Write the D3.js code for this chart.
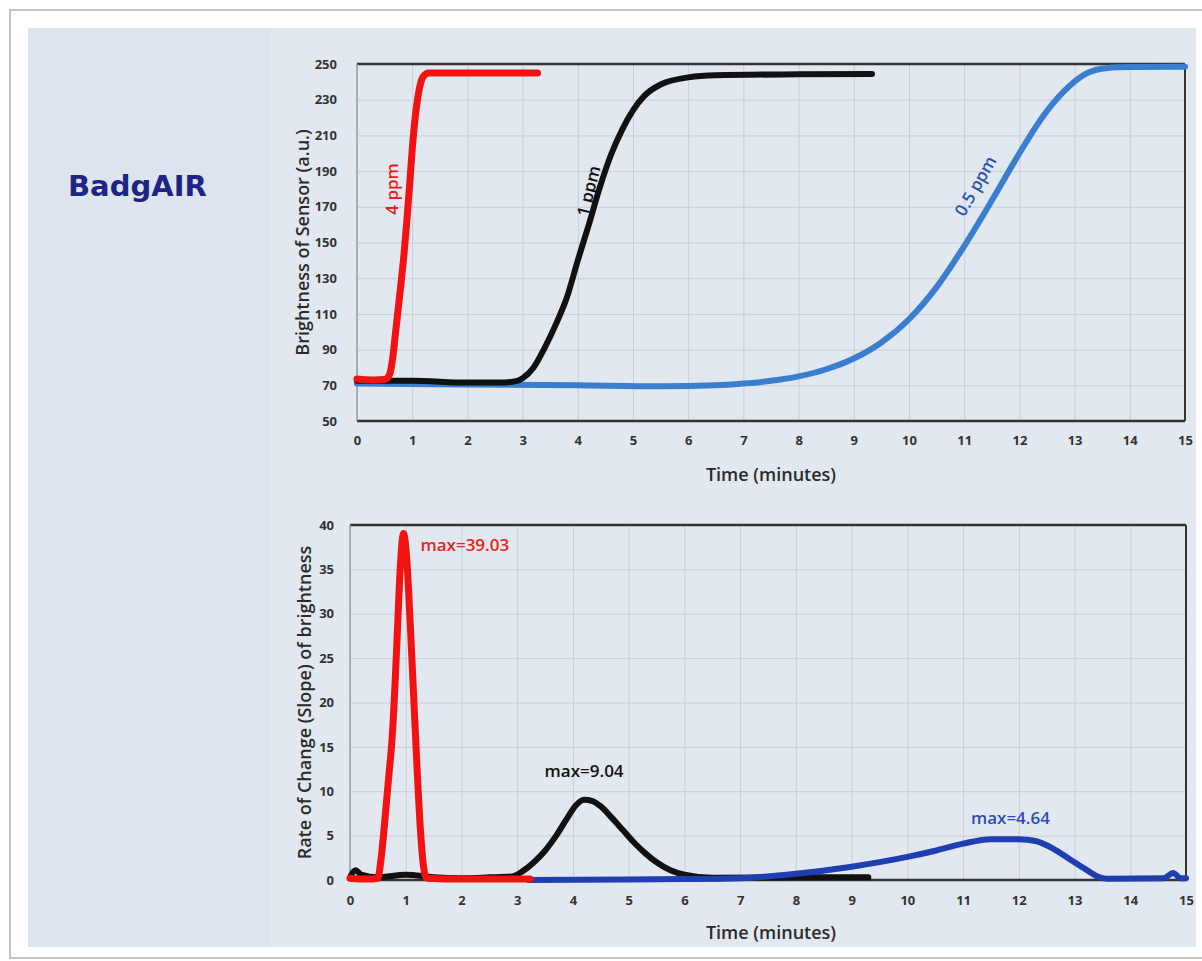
<!DOCTYPE html>
<meta charset="utf-8">
<style>
body { margin: 0; background: #fff; }
.tick text { font: bold 13px "Open Sans", sans-serif; fill: #333; }
.grid line { stroke: #c9ced6; stroke-width: 1; }
.grid path { display: none; }
.axis-title { font: 600 18px "Open Sans", sans-serif; fill: #2a2a2a; }
.note { font: 600 17px "Open Sans", sans-serif; }
</style>
<svg width="1202" height="961"></svg>
<script src="https://d3js.org/d3.v7.min.js"></script>
<script>
// brightness of sensor, [minutes, a.u.]
var bright4ppm = [[0,73.5],[0.3,73],[0.5,73.2],[0.55,74],[0.6,77],[0.65,86],[0.7,100],[0.75,114],[0.8,128],[0.85,143],[0.9,161],[0.95,181],[1.0,202],[1.05,219],[1.1,231],[1.15,239],[1.2,243],[1.3,245],[2,245],[3.27,245]];
var bright1ppm = [[0,72.5],[1,72.5],[2,71.5],[2.6,71.5],[2.9,72.5],[3.0,74],[3.2,80],[3.4,91],[3.6,104],[3.8,119],[4.0,140],[4.2,160],[4.4,181],[4.6,199],[4.8,213],[5.0,224],[5.2,232],[5.5,238.5],[6.0,242.5],[6.5,243.7],[8,244.2],[9.33,244.4]];
var bright05ppm = [[0,71],[2,70.5],[4,70],[5.5,69.5],[6.5,70],[7,71],[7.5,72.5],[8,75],[8.5,79],[9,85],[9.5,94],[10,107],[10.5,125],[11,148],[11.5,173.5],[12,200],[12.4,219.5],[12.8,234.5],[13.2,244.5],[13.6,247.8],[14,248.3],[15,248.5]];

// rate of change of brightness, [minutes, slope]
var slope4ppm = [[0,0.2],[0.3,0.1],[0.5,0.2],[0.55,2],[0.6,5],[0.65,8.5],[0.7,12],[0.75,15.5],[0.8,21],[0.85,28],[0.9,35],[0.96,39.03],[1.02,36],[1.08,29],[1.14,21],[1.2,13],[1.26,6],[1.32,1.5],[1.38,0.2],[2,0.1],[3.23,0.1]];
var slope1ppm = [[0,0.3],[0.1,1.1],[0.2,0.6],[0.5,0.3],[1,0.6],[1.5,0.3],[2,0.2],[2.5,0.3],[2.9,0.4],[3.1,1],[3.3,2],[3.5,3.3],[3.7,5],[3.9,7],[4.05,8.4],[4.2,9.04],[4.35,8.9],[4.5,8.3],[4.7,7],[4.9,5.6],[5.1,4.2],[5.3,3],[5.5,2],[5.75,1.1],[6.0,0.6],[6.5,0.25],[8,0.3],[9.3,0.3]];
var slope05ppm = [[3.2,0],[5,0.05],[6,0.1],[7,0.2],[8,0.7],[9,1.5],[10,2.6],[10.5,3.3],[11,4.1],[11.5,4.6],[12,4.6],[12.3,4.4],[12.6,3.6],[12.9,2.4],[13.2,1.2],[13.45,0.3],[13.6,0.15],[14.6,0.2],[14.77,0.8],[14.9,0.2],[15,0.2]];

var xTicks = d3.range(0, 16);
var yTicksTop = d3.range(50, 251, 20);
var yTicksBottom = d3.range(0, 41, 5);

var svg = d3.select("svg");

// card and background
svg.append("rect").attr("x", 10).attr("y", 10).attr("width", 1200).attr("height", 948)
    .attr("fill", "#fff").attr("stroke", "#c4c4c4").attr("stroke-width", 2);
svg.append("rect").attr("x", 28).attr("y", 28).attr("width", 1168).attr("height", 919)
    .attr("fill", "#e2e8ef");
svg.append("rect").attr("x", 28).attr("y", 28).attr("width", 242).attr("height", 919)
    .attr("fill", "#dde4ed");

svg.append("text").attr("x", 68).attr("y", 196)
    .style("font", "bold 29px 'DejaVu Sans', sans-serif").attr("fill", "#1d2486")
    .text("BadgAIR");

function panel(xr, yr, yDomain, yTicks, xPad, yPad, xTitleY, yTitleX, yTitle) {
    var x = d3.scaleLinear().domain([0, 15]).range(xr);
    var y = d3.scaleLinear().domain(yDomain).range(yr);
    var g = svg.append("g");
    g.append("g").attr("class", "grid")
        .attr("transform", "translate(0," + yr[0] + ")")
        .call(d3.axisBottom(x).tickValues(xTicks).tickSize(yr[1] - yr[0]).tickFormat(""));
    g.append("g").attr("class", "grid")
        .attr("transform", "translate(" + xr[0] + ",0)")
        .call(d3.axisLeft(y).tickValues(yTicks).tickSize(xr[0] - xr[1]).tickFormat(""));
    // frame
    g.append("line").attr("x1", xr[0]).attr("x2", xr[1]).attr("y1", yr[1]).attr("y2", yr[1]).attr("stroke", "#333").attr("stroke-width", 2.5);
    g.append("line").attr("x1", xr[0]).attr("x2", xr[1]).attr("y1", yr[0]).attr("y2", yr[0]).attr("stroke", "#333").attr("stroke-width", 2.5);
    g.append("line").attr("x1", xr[1]).attr("x2", xr[1]).attr("y1", yr[0]).attr("y2", yr[1]).attr("stroke", "#333").attr("stroke-width", 2);
    g.append("line").attr("x1", xr[0]).attr("x2", xr[0]).attr("y1", yr[0]).attr("y2", yr[1]).attr("stroke", "#9a9ea6").attr("stroke-width", 1.5);
    var xa = g.append("g").attr("transform", "translate(0," + yr[0] + ")")
        .call(d3.axisBottom(x).tickValues(xTicks).tickSize(0).tickPadding(xPad));
    xa.select(".domain").remove();
    var ya = g.append("g").attr("transform", "translate(" + xr[0] + ",0)")
        .call(d3.axisLeft(y).tickValues(yTicks).tickSize(0).tickPadding(yPad));
    ya.select(".domain").remove();
    g.append("text").attr("class", "axis-title").attr("text-anchor", "middle")
        .attr("x", 771).attr("y", xTitleY).text("Time (minutes)");
    g.append("text").attr("class", "axis-title").attr("text-anchor", "middle")
        .attr("transform", "translate(" + yTitleX + "," + ((yr[0] + yr[1]) / 2) + ") rotate(-90)")
        .text(yTitle);
    return {x: x, y: y, g: g};
}

function draw(p, data, color, width) {
    var line = d3.line().x(function(d) { return p.x(d[0]); }).y(function(d) { return p.y(d[1]); })
        .curve(d3.curveMonotoneX);
    p.g.append("path").datum(data).attr("d", line).attr("fill", "none")
        .attr("stroke", color).attr("stroke-width", width)
        .attr("stroke-linejoin", "round").attr("stroke-linecap", "round");
}

function note(p, t, v, text, color, angle) {
    p.g.append("text").attr("class", "note").attr("text-anchor", "middle")
        .attr("transform", "translate(" + p.x(t) + "," + p.y(v) + ") rotate(" + angle + ")")
        .attr("fill", color).text(text);
}

var topPanel = panel([357, 1185], [421, 64], [50, 250], yTicksTop, 15, 20, 481, 309, "Brightness of Sensor (a.u.)");
draw(topPanel, bright05ppm, "#3a7fcf", 6);
draw(topPanel, bright1ppm, "#111", 6);
draw(topPanel, bright4ppm, "#f21212", 7);
note(topPanel, 0.74, 180, "4 ppm", "#e81a1a", -90);
note(topPanel, 4.3, 178, "1 ppm", "#111", -76);
note(topPanel, 11.3, 180, "0.5 ppm", "#2b56b0", -60);

var botPanel = panel([350, 1186], [880, 525], [0, 40], yTicksBottom, 16, 16, 939, 311, "Rate of Change (Slope) of brightness");
draw(botPanel, slope1ppm, "#111", 6);
draw(botPanel, slope05ppm, "#1f3fb0", 6);
draw(botPanel, slope4ppm, "#f21212", 7);
note(botPanel, 2.06, 37.1, "max=39.03", "#e62424", 0);
note(botPanel, 4.2, 11.6, "max=9.04", "#111", 0);
note(botPanel, 11.85, 6.3, "max=4.64", "#2a4fb0", 0);
</script>
